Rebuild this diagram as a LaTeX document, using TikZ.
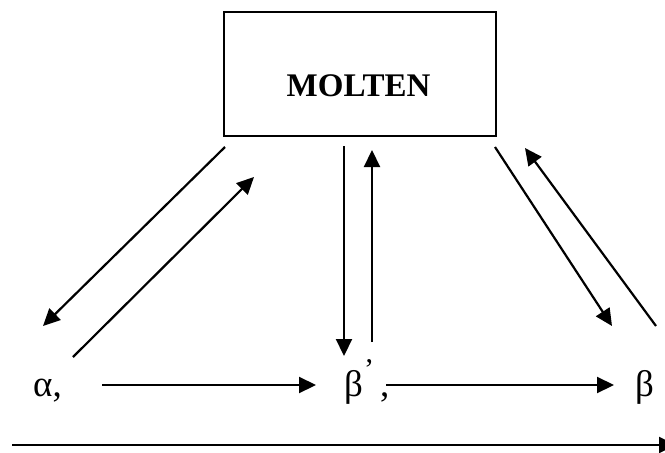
\documentclass[tikz,border=0pt]{standalone}
\usepackage{fontspec}
\setmainfont{Liberation Serif}
\usetikzlibrary{arrows.meta}
\begin{document}
\begin{tikzpicture}[x=1pt,y=-1pt,
  arr/.style={-{Triangle[length=17pt,width=16pt]}, line width=2.2pt},
  greek/.style={font=\fontsize{37}{40}\selectfont, inner sep=0pt},
  boxst/.style={draw, line width=2.2pt, minimum width=272pt, minimum height=124pt, inner sep=0pt},
  titlest/.style={font=\fontsize{33}{36}\selectfont\bfseries, inner sep=0pt}]
\useasboundingbox (0,0) rectangle (665,453);
\node[boxst] (box) at (360,74) {};
\node[titlest, anchor=base] (molten) at (358.5,96) {MOLTEN};
\node[greek, anchor=base west] (alpha) at (33,396) {α,};
\node[greek, anchor=base west] (betap) at (344,396) {β\hspace{1pt}\raisebox{17pt}{\fontsize{30}{30}\selectfont ’}\hspace{6pt},};
\node[greek, anchor=base west] (beta) at (635,396) {β};
\coordinate (a1s) at (225,147);
\coordinate (a1e) at (43,326);
\coordinate (a2s) at (73,357);
\coordinate (a2e) at (254,177);
\coordinate (m1s) at (344,146);
\coordinate (m1e) at (344,356);
\coordinate (m2s) at (372,342);
\coordinate (m2e) at (372,150);
\coordinate (r1s) at (495,147);
\coordinate (r1e) at (612,326);
\coordinate (r2s) at (656,326);
\coordinate (r2e) at (525,148);
\coordinate (h1s) at (102,385);
\coordinate (h1e) at (316,385);
\coordinate (h2s) at (386,385);
\coordinate (h2e) at (614,385);
\coordinate (bs) at (12,445);
\coordinate (be) at (676,445);
\draw[arr] (a1s) -- (a1e);
\draw[arr] (a2s) -- (a2e);
\draw[arr] (m1s) -- (m1e);
\draw[arr] (m2s) -- (m2e);
\draw[arr] (r1s) -- (r1e);
\draw[arr] (r2s) -- (r2e);
\draw[arr] (h1s) -- (h1e);
\draw[arr] (h2s) -- (h2e);
\draw[arr] (bs) -- (be);
\end{tikzpicture}
\end{document}
